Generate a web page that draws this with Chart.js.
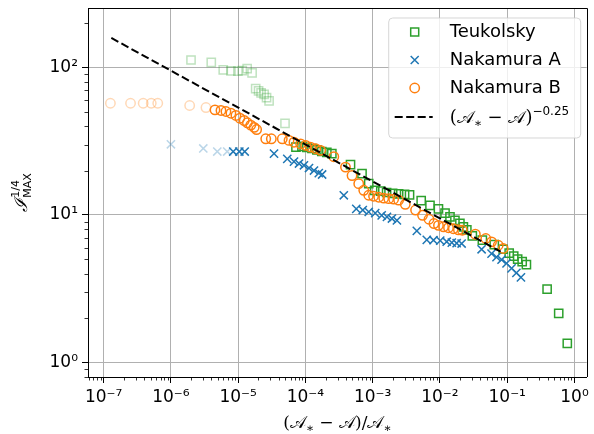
<!DOCTYPE html>
<html>
<head>
<meta charset="utf-8">
<script src="https://cdn.jsdelivr.net/npm/chart.js@4.4.1/dist/chart.umd.min.js"></script>
<style>
  html, body { margin: 0; padding: 0; background: #fff; }
  #wrap { width: 594px; height: 434px; }
</style>
</head>
<body>
<div id="wrap"><canvas id="chart"></canvas></div>
<script>
// values (x = (A* - A)/A*, y = I_MAX^(1/4))
const teukFadedX = [1.99e-6, 3.98e-6, 6.0e-6, 7.8e-6, 9.9e-6, 1.15e-5, 1.36e-5, 1.61e-5, 1.82e-5, 2.01e-5, 2.19e-5, 2.43e-5, 2.64e-5, 2.88e-5, 4.97e-5];
const teukFadedY = [112, 108, 96, 94.6, 94.3, 95, 98, 91.6, 71.8, 69.3, 67, 65.5, 62.4, 59.2, 41.7];
const teukX = [7.23e-5, 8.87e-5, 1.05e-4, 1.25e-4, 1.48e-4, 1.75e-4, 2.08e-4, 2.47e-4, 4.68e-4, 6.94e-4, 8.73e-4,
  1.07e-3, 1.32e-3, 1.61e-3, 1.98e-3, 2.43e-3, 2.98e-3, 3.53e-3, 5.26e-3, 7.11e-3, 9.5e-3, 1.19e-2, 1.41e-2,
  1.67e-2, 1.98e-2, 2.23e-2, 2.51e-2, 3.03e-2, 4.27e-2, 6.42e-2, 8.72e-2, 0.107, 0.125, 0.143, 0.167, 0.193,
  0.392, 0.583, 0.782];
const teukY = [28.8, 29.1, 28.7, 28.2, 27.6, 26.9, 26.5, 26.0, 21.9, 19.05, 16.3,
  14.7, 14.5, 14.2, 14.0, 13.9, 13.8, 13.7, 12.5, 11.6, 11.0, 10.3, 9.72,
  9.2, 8.79, 8.32, 7.94, 7.23, 6.75, 6.3, 5.86, 5.51, 5.26, 5.02, 4.83, 4.61,
  3.15, 2.16, 1.35];

const nakAFadedX = [1.0e-6, 3.03e-6, 4.89e-6, 6.87e-6];
const nakAFadedY = [30.1, 28.2, 26.9, 26.9];
const nakAX = [8.43e-6, 1.04e-5, 1.25e-5, 3.41e-5, 5.37e-5, 6.76e-5, 8.02e-5, 9.5e-5, 1.13e-4, 1.34e-4, 1.58e-4, 1.77e-4,
  3.72e-4, 5.7e-4, 7.12e-4, 8.73e-4, 1.09e-3, 1.36e-3, 1.63e-3, 1.93e-3, 2.29e-3,
  4.53e-3, 6.37e-3, 8.01e-3, 1.01e-2, 1.26e-2, 1.5e-2, 1.77e-2, 2.1e-2,
  4.16e-2, 5.85e-2, 6.93e-2, 8.24e-2, 9.77e-2, 0.116, 0.137, 0.16];
const nakAY = [26.9, 26.9, 26.9, 26.0, 24.0, 23.0, 22.3, 21.7, 20.8, 20.0, 19.2, 18.8,
  13.6, 11.0, 10.8, 10.5, 10.3, 9.95, 9.7, 9.46, 9.2,
  7.8, 6.79, 6.75, 6.7, 6.59, 6.5, 6.44, 6.41,
  5.86, 5.48, 5.18, 4.98, 4.70, 4.35, 4.06, 3.78];

const nakBFadedX = [1.26e-7, 2.51e-7, 3.87e-7, 5.1e-7, 6.37e-7, 1.9e-6, 3.32e-6];
const nakBFadedY = [57.1, 57.1, 57.1, 57.1, 57.1, 55.1, 53.4];
const nakBX = [4.52e-6, 5.55e-6, 6.58e-6, 7.8e-6, 9.25e-6, 1.06e-5, 1.23e-5, 1.37e-5, 1.54e-5, 1.73e-5, 1.88e-5,
  2.57e-5, 3.11e-5, 4.53e-5, 5.7e-5, 6.76e-5, 8.49e-5, 1.01e-4, 1.19e-4, 1.42e-4, 1.68e-4,
  2.64e-4, 3.94e-4, 4.93e-4, 6.2e-4, 7.36e-4, 8.73e-4, 1.03e-3, 1.23e-3, 1.46e-3, 1.73e-3, 2.05e-3, 2.43e-3,
  3.05e-3, 4.34e-3, 5.51e-3, 6.87e-3, 8.15e-3, 9.5e-3, 1.13e-2, 1.34e-2, 1.58e-2, 1.88e-2, 2.15e-2,
  3.36e-2, 4.8e-2, 5.85e-2, 7.36e-2, 8.72e-2];
const nakBY = [51.5, 51.0, 50.2, 48.9, 47.2, 45.2, 43.6, 42.1, 40.6, 39.2, 37.9,
  32.8, 32.8, 32.8, 32.0, 31.1, 30.3, 29.6, 28.8, 28.1, 27.4,
  24.8, 21.1, 18.5, 16.3, 14.7, 13.6, 13.4, 13.2, 13.0, 12.9, 12.8, 12.6,
  11.8, 10.8, 9.95, 9.36, 8.75, 8.51, 8.32, 8.2, 8.07, 7.94, 7.88,
  7.41, 6.93, 6.58, 6.24, 5.93];

// power law (A* - A)^-0.25, end points only
const fitX = [1.3e-7, 0.08];
const fitY = [158, 5.64];

const xDecades = [-7, -6, -5, -4, -3, -2, -1, 0];
const yDecades = [0, 1, 2];

const GREEN = '#2ca02c', BLUE = '#1f77b4', ORANGE = '#ff7f0e';
const FADE = 0.3;

function zip(xs, ys) {
  return xs.map((x, i) => ({ x: x, y: ys[i] }));
}
function fade(hex) {
  const n = parseInt(hex.slice(1), 16);
  return 'rgba(' + (n >> 16) + ',' + ((n >> 8) & 255) + ',' + (n & 255) + ',' + FADE + ')';
}

const SUP = { '-': '\u207B', '0': '\u2070', '1': '\u00B9', '2': '\u00B2', '3': '\u00B3', '4': '\u2074',
  '5': '\u2075', '6': '\u2076', '7': '\u2077', '8': '\u2078', '9': '\u2079' };
function powLabel(v) {
  const e = String(Math.round(Math.log10(v)));
  return '10' + e.split('').map(c => SUP[c]).join('');
}

const FONT = "'DejaVu Sans', sans-serif";
const MATH = "'DejaVu Serif', serif";

// draws a run of text pieces [text, size, dy, font] starting at x (or centred)
function richWidth(ctx, parts) {
  let w = 0;
  parts.forEach(p => {
    ctx.font = p[1] + 'px ' + (p[3] || MATH);
    w += ctx.measureText(p[0]).width;
  });
  return w;
}
function drawRich(ctx, parts, x, y, align) {
  let cx = align === 'center' ? x - richWidth(ctx, parts) / 2 : x;
  ctx.textBaseline = 'alphabetic';
  ctx.textAlign = 'left';
  parts.forEach(p => {
    ctx.font = p[1] + 'px ' + (p[3] || MATH);
    ctx.fillText(p[0], cx, y + (p[2] || 0));
    cx += ctx.measureText(p[0]).width;
  });
}

const CAL_A = '\uD835\uDC9C';

// minor ticks plus the top / right spines
const frame = {
  id: 'frame',
  afterDraw(chart) {
    const ctx = chart.ctx, area = chart.chartArea;
    const xs = chart.scales.x, ys = chart.scales.y;
    ctx.save();
    ctx.strokeStyle = '#000';
    ctx.lineWidth = 0.8;
    ctx.beginPath();
    for (let d = -8; d <= 0; d++) {
      for (let m = 2; m <= 9; m++) {
        const v = m * Math.pow(10, d);
        if (v < xs.min || v > xs.max) continue;
        const px = Math.round(xs.getPixelForValue(v)) + 0.5;
        ctx.moveTo(px, area.bottom);
        ctx.lineTo(px, area.bottom + 3.5);
      }
    }
    for (let d = -1; d <= 2; d++) {
      for (let m = 2; m <= 9; m++) {
        const v = m * Math.pow(10, d);
        if (v < ys.min || v > ys.max) continue;
        const py = Math.round(ys.getPixelForValue(v)) + 0.5;
        ctx.moveTo(area.left, py);
        ctx.lineTo(area.left - 3.5, py);
      }
    }
    ctx.stroke();
    ctx.lineWidth = 1;
    ctx.beginPath();
    ctx.moveTo(area.left, Math.round(area.top) + 0.5);
    ctx.lineTo(Math.round(area.right) + 0.5, Math.round(area.top) + 0.5);
    ctx.lineTo(Math.round(area.right) + 0.5, area.bottom);
    ctx.stroke();
    ctx.restore();
  }
};

const axisTitles = {
  id: 'axisTitles',
  afterDraw(chart) {
    const ctx = chart.ctx, area = chart.chartArea;
    ctx.save();
    ctx.fillStyle = '#000';
    // x title
    drawRich(ctx, [
      ['(', 17], [CAL_A, 17], ['\u2217', 12, 4], [' \u2212 ', 17], [CAL_A, 17], [')/', 17], [CAL_A, 17], ['\u2217', 12, 4]
    ], (area.left + area.right) / 2, 428, 'center');
    // y title, rotated
    ctx.translate(27, (area.top + area.bottom) / 2);
    ctx.rotate(-Math.PI / 2);
    ctx.font = 'italic 18px ' + MATH;
    const wI = ctx.measureText('\u2110').width;
    ctx.font = '11px ' + FONT;
    const wM = ctx.measureText('MAX').width;
    const x0 = -(wI + wM + 1) / 2;
    ctx.textAlign = 'left';
    ctx.font = 'italic 18px ' + MATH;
    ctx.fillText('\u2110', x0, 0);
    ctx.font = '11px ' + FONT;
    ctx.fillText('1/4', x0 + wI + 1, -8);
    ctx.fillText('MAX', x0 + wI + 1, 4);
    ctx.restore();
  }
};

function drawMarker(ctx, kind, x, y, color) {
  ctx.strokeStyle = color;
  ctx.lineWidth = 1.5;
  ctx.beginPath();
  if (kind === 'rect') {
    ctx.rect(x - 4, y - 4, 8, 8);
  } else if (kind === 'crossRot') {
    ctx.moveTo(x - 4, y - 4); ctx.lineTo(x + 4, y + 4);
    ctx.moveTo(x - 4, y + 4); ctx.lineTo(x + 4, y - 4);
  } else {
    ctx.arc(x, y, 4.7, 0, Math.PI * 2);
  }
  ctx.stroke();
}

const mathLegend = {
  id: 'mathLegend',
  afterDraw(chart) {
    const ctx = chart.ctx, area = chart.chartArea;
    const w = 192, h = 120;
    const bx = area.right - 6 - w, by = area.top + 10;
    ctx.save();
    ctx.beginPath();
    ctx.roundRect(bx, by, w, h, 4);
    ctx.fillStyle = 'rgba(255,255,255,0.8)';
    ctx.fill();
    ctx.strokeStyle = 'rgba(204,204,204,0.8)';
    ctx.lineWidth = 1;
    ctx.stroke();
    const mx = bx + 26, tx = bx + 61;
    const rows = [by + 14, by + 42, by + 70, by + 99];
    drawMarker(ctx, 'rect', mx, rows[0], GREEN);
    drawMarker(ctx, 'crossRot', mx, rows[1], BLUE);
    drawMarker(ctx, 'circle', mx, rows[2], ORANGE);
    ctx.strokeStyle = '#000';
    ctx.lineWidth = 2;
    ctx.setLineDash([8, 3.5]);
    ctx.beginPath();
    ctx.moveTo(bx + 6, rows[3]);
    ctx.lineTo(bx + 44, rows[3]);
    ctx.stroke();
    ctx.setLineDash([]);
    ctx.fillStyle = '#000';
    ctx.font = '18px ' + FONT;
    ctx.textBaseline = 'middle';
    ctx.textAlign = 'left';
    ctx.fillText('Teukolsky', tx, rows[0]);
    ctx.fillText('Nakamura A', tx, rows[1]);
    ctx.fillText('Nakamura B', tx, rows[2]);
    drawRich(ctx, [
      ['(', 18], [CAL_A, 18], ['\u2217', 12, 4], [' \u2212 ', 18], [CAL_A, 18], [')', 18],
      ['\u22120.25', 12, -8, FONT]
    ], tx, rows[3] + 6, 'left');
    ctx.restore();
  }
};

function scatterSet(label, xs, ys, style, color, order) {
  return {
    label: label,
    data: zip(xs, ys),
    pointStyle: style,
    pointRadius: style === 'circle' ? 4.7 : 5.8,
    pointHoverRadius: style === 'circle' ? 4.7 : 5.8,
    pointBorderWidth: 1.5,
    borderColor: color,
    backgroundColor: 'rgba(0,0,0,0)',
    pointBackgroundColor: 'rgba(0,0,0,0)',
    showLine: false,
    order: order
  };
}

const ctx = document.getElementById('chart').getContext('2d');
new Chart(ctx, {
  type: 'scatter',
  data: {
    datasets: [
      {
        label: '(A* - A)^-0.25',
        type: 'line',
        data: zip(fitX, fitY),
        borderColor: '#000',
        borderWidth: 2,
        borderDash: [8, 3.5],
        pointRadius: 0,
        fill: false,
        order: 0
      },
      scatterSet('Nakamura B', nakBX, nakBY, 'circle', ORANGE, 1),
      scatterSet('Nakamura A', nakAX, nakAY, 'crossRot', BLUE, 2),
      scatterSet('Teukolsky', teukX, teukY, 'rect', GREEN, 3),
      scatterSet('', nakBFadedX, nakBFadedY, 'circle', fade(ORANGE), 4),
      scatterSet('', nakAFadedX, nakAFadedY, 'crossRot', fade(BLUE), 5),
      scatterSet('', teukFadedX, teukFadedY, 'rect', fade(GREEN), 6)
    ]
  },
  options: {
    responsive: true,
    maintainAspectRatio: false,
    animation: false,
    layout: { padding: { top: 8, right: 5, left: 0, bottom: 0 } },
    plugins: {
      legend: { display: false },
      tooltip: { enabled: false }
    },
    scales: {
      x: {
        type: 'logarithmic',
        min: 5.85e-8,
        max: 1.52,
        afterBuildTicks: function (scale) {
          scale.ticks = xDecades.map(d => ({ value: Math.pow(10, d) }));
        },
        afterFit: function (scale) {
          scale.height = 57;
          scale.paddingLeft = 0;
          scale.paddingRight = 0;
        },
        grid: { color: '#b0b0b0', lineWidth: 1, tickColor: '#000', tickLength: 6 },
        border: { color: '#000', width: 1 },
        ticks: {
          autoSkip: false,
          maxRotation: 0,
          color: '#000',
          padding: 4,
          font: { family: FONT, size: 17 },
          callback: function (value) { return powLabel(value); }
        }
      },
      y: {
        type: 'logarithmic',
        min: 0.8,
        max: 252,
        afterBuildTicks: function (scale) {
          scale.ticks = yDecades.map(d => ({ value: Math.pow(10, d) }));
        },
        afterFit: function (scale) {
          scale.width = 88;
          scale.paddingTop = 0;
          scale.paddingBottom = 0;
        },
        grid: { color: '#b0b0b0', lineWidth: 1, tickColor: '#000', tickLength: 6 },
        border: { color: '#000', width: 1 },
        ticks: {
          autoSkip: false,
          color: '#000',
          padding: 4,
          font: { family: FONT, size: 17 },
          callback: function (value) { return powLabel(value); }
        }
      }
    }
  },
  plugins: [frame, axisTitles, mathLegend]
});
</script>
</body>
</html>
